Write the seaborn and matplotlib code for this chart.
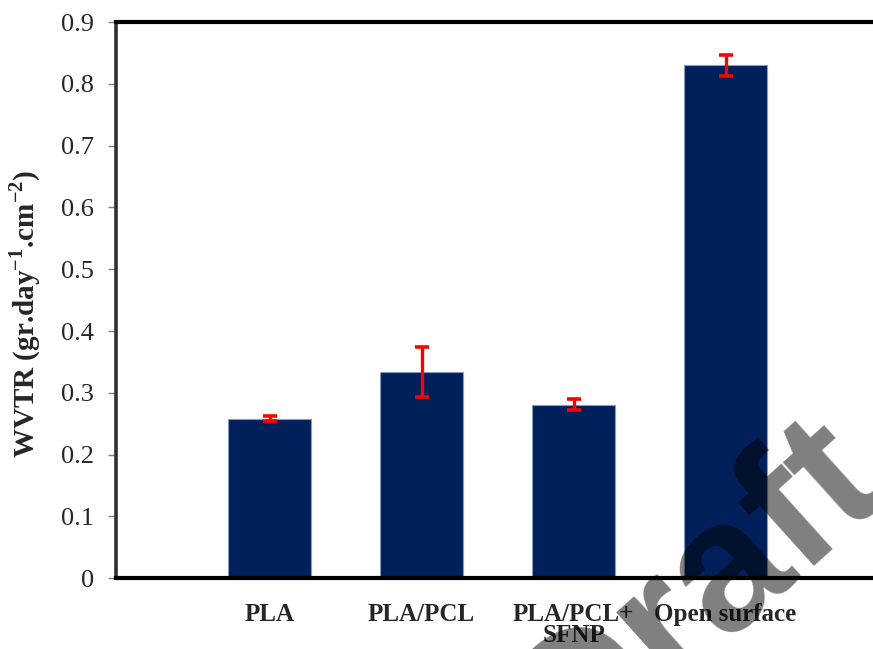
import numpy as np
import pandas as pd
import matplotlib
matplotlib.use("Agg")
import matplotlib.pyplot as plt
import seaborn as sns

# Water vapour transmission rate per film type
categories = ["PLA", "PLA/PCL", "PLA/PCL+\nSFNP", "Open surface"]
wvtr = [0.258, 0.334, 0.281, 0.830]
wvtr_err = [0.004, 0.040, 0.009, 0.017]
y_ticks = [0, 0.1, 0.2, 0.3, 0.4, 0.5, 0.6, 0.7, 0.8, 0.9]
y_tick_labels = ["0", "0.1", "0.2", "0.3", "0.4", "0.5", "0.6", "0.7", "0.8", "0.9"]

sns.set_theme(style="white")
plt.rcParams["font.family"] = ["Liberation Serif", "DejaVu Serif"]
plt.rcParams["mathtext.fontset"] = "custom"
plt.rcParams["mathtext.rm"] = "Liberation Serif"
plt.rcParams["mathtext.bf"] = "Liberation Serif:bold"

df = pd.DataFrame({"film": categories, "wvtr": wvtr})

fig = plt.figure(figsize=(8.73, 6.49), dpi=100)
ax = fig.add_axes([0.133, 0.109, 0.867, 0.857])

sns.barplot(data=df, x="film", y="wvtr", color="#00205b", width=0.55,
            edgecolor="#8a9bbf", linewidth=0.8, saturation=1, errorbar=None, ax=ax)

centers = [p.get_x() + p.get_width() / 2 for p in ax.patches]
ax.errorbar(centers, wvtr, yerr=wvtr_err, fmt="none", ecolor="#ff0000",
            elinewidth=2.4, capsize=5, capthick=2.6, zorder=5)

ax.set_xlim(-1.01, 3.97)
ax.set_ylim(0, 0.9)
ax.set_yticks(y_ticks)
ax.set_yticklabels(y_tick_labels, fontsize=19)
ax.set_xticks(range(len(categories)))
ax.set_xticklabels(categories, fontsize=18, fontweight="bold", linespacing=0.88)

ax.set_xlabel("")
ax.set_ylabel(r"WVTR (gr.day$^{\mathbf{-1}}$.cm$^{\mathbf{-2}}$)",
              fontsize=21, fontweight="bold")
ax.yaxis.set_label_coords(-0.097, 0.475)

ax.tick_params(axis="y", which="major", left=True, length=6, width=1,
               color="#808080", pad=10, direction="out")
ax.tick_params(axis="x", bottom=False, pad=12)

for side in ["left", "top", "bottom"]:
    ax.spines[side].set_visible(True)
ax.spines["right"].set_visible(False)
ax.spines["left"].set_color("#303030")
ax.spines["left"].set_linewidth(2.6)
ax.spines["top"].set_color("black")
ax.spines["top"].set_linewidth(3)
ax.spines["bottom"].set_color("black")
ax.spines["bottom"].set_linewidth(3)
ax.spines["bottom"].set_zorder(6)

# Draft stamp across the lower right corner
fig.text(0.80, 0.085, "Draft", fontsize=132, fontweight="bold",
         family="Liberation Sans", color="black", alpha=0.5,
         rotation=42, ha="center", va="center", zorder=10)

fig.savefig("out.png", dpi=100)
